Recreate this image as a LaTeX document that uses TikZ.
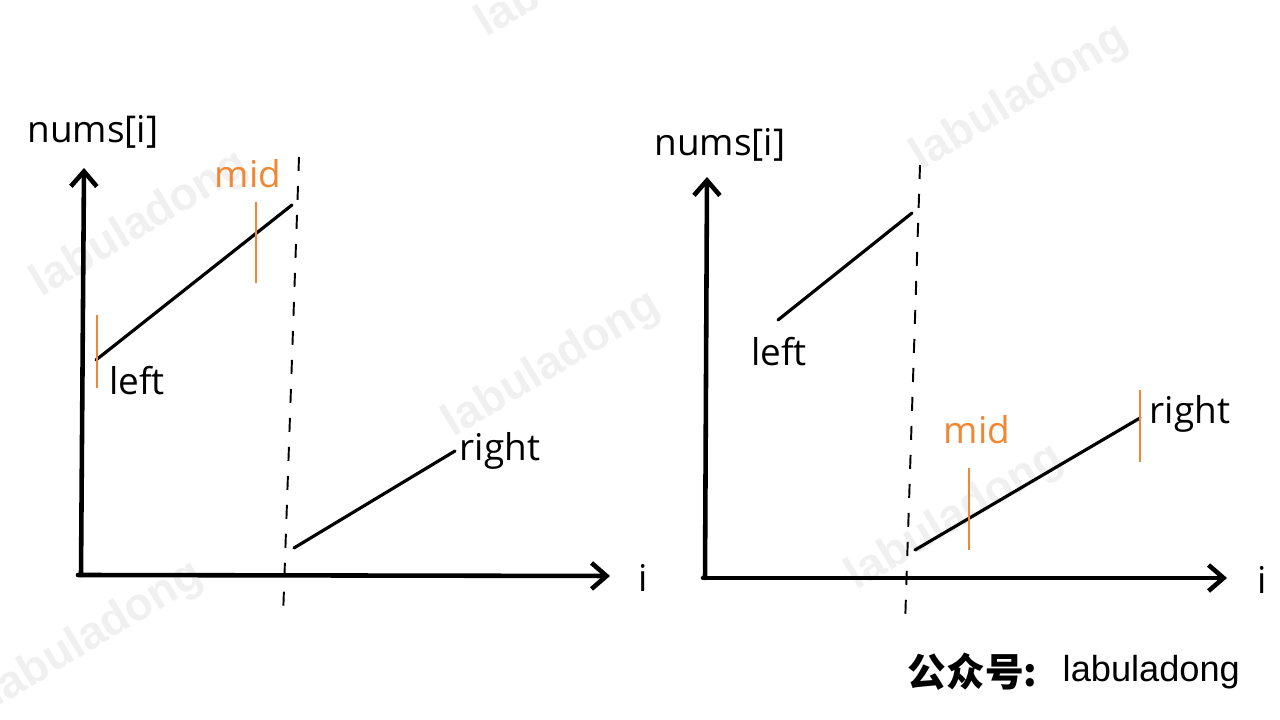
\documentclass[tikz,border=0pt]{standalone}
\usepackage{fontspec}
\setmainfont{Open Sans}
\newfontfamily\markfont{Liberation Sans}
\newfontfamily\cjkfont{Noto Sans CJK SC}
\usetikzlibrary{arrows.meta}

\definecolor{midorange}{RGB}{240,135,50}
\tikzset{
  axis/.style={line width=1.3pt, line cap=round, -{Straight Barb[length=1.5mm,width=2.6mm,line width=1.3pt]}},
  seg/.style={line width=0.9pt, line cap=round},
  tick/.style={midorange, line width=0.6pt},
  cut/.style={line width=0.55pt, dash pattern=on 1.4mm off 1.5mm},
  lbl/.style={font=\fontsize{10.5}{12}\selectfont, inner sep=0pt},
  wmark/.style={font=\markfont\bfseries\fontsize{13}{14}\selectfont, text=black!6, rotate=31}
}

\begin{document}
\begin{tikzpicture}[x=1cm, y=1cm]
\useasboundingbox (0,0) rectangle (12.8,7.2);
\clip (0,0) rectangle (12.8,7.2);

% -------- watermarks -----------
\node [wmark] (wm1) at (1.40,4.95) {labuladong};
\node [wmark] (wm2) at (5.52,3.55) {labuladong};
\node [wmark] (wm3) at (10.20,6.22) {labuladong};
\node [wmark] (wm4) at (9.55,2.02) {labuladong};
\node [wmark] (wm5) at (0.95,0.85) {labuladong};
\node [wmark] (wm6) at (5.85,7.55) {labuladong};

% -------- left plot -----------
\draw [axis] (0.81,1.45) -- (0.84,5.52);
\draw [axis] (0.78,1.45) -- (6.10,1.44);
\node [lbl] (ly) at (0.93,5.88) {nums[i]};
\node [lbl] (lx) at (6.43,1.42) {i};

\draw [cut] (2.99,5.63) -- (2.83,1.03);

\draw [seg] (0.96,3.60) -- (2.92,5.15);
\draw [seg] (2.94,1.72) -- (4.55,2.69);

\draw [tick] (0.97,3.32) -- (0.97,4.05);
\draw [tick] (2.56,4.37) -- (2.56,5.18);

\node [lbl] (lleft) at (1.37,3.39) {left};
\node [lbl, text=midorange] (lmid) at (2.48,5.46) {mid};
\node [lbl] (lright) at (5.00,2.69) {right};

% -------- right plot -----------
\draw [axis] (7.05,1.42) -- (7.07,5.43);
\draw [axis] (7.03,1.42) -- (12.27,1.42);
\node [lbl] (ry) at (7.20,5.75) {nums[i]};
\node [lbl] (rx) at (12.62,1.40) {i};

\draw [cut] (9.20,5.55) -- (9.05,0.95);

\draw [seg] (7.78,4.00) -- (9.12,5.07);
\draw [seg] (9.15,1.70) -- (11.40,3.02);

\draw [tick] (9.69,1.70) -- (9.69,2.52);
\draw [tick] (11.40,2.58) -- (11.40,3.30);

\node [lbl] (rleft) at (7.79,3.68) {left};
\node [lbl, text=midorange] (rmid) at (9.77,2.90) {mid};
\node [lbl] (rright) at (11.90,3.06) {right};

% -------- signature -----------
\node [anchor=east, inner sep=0pt, font=\cjkfont\bfseries\fontsize{11}{12}\selectfont] (sigcn) at (10.38,0.48) {公众号:};
\node [anchor=west, inner sep=0pt, font=\markfont\fontsize{10.3}{12}\selectfont] (sigen) at (10.62,0.48) {labuladong};
\end{tikzpicture}
\end{document}
